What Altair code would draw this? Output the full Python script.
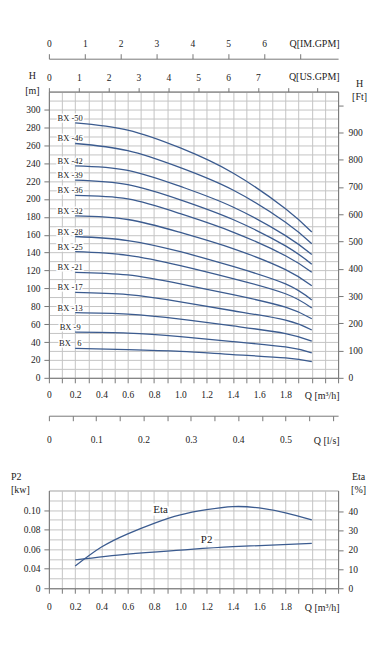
import altair as alt
import pandas as pd

FONT = "Liberation Serif, Times New Roman, serif"
BLUE = "#3b5b8f"
INK = "#222222"

# ---------------- head curves (Q in m3/h, H in m) ----------------
q_main = [0.2, 0.6, 1.0, 1.4, 1.8, 2.0]
models = ["BX -50", "BX -46", "BX -42", "BX -39", "BX -36", "BX -32", "BX -28",
          "BX -25", "BX -21", "BX -17", "BX -13", "BX -9", "BX\u00a0\u00a0\u00a06"]
h_bx50 = [285, 277, 257, 229, 189, 163]
h_bx46 = [262, 254, 235, 210, 174, 150]
h_bx42 = [237, 232, 214, 191, 159, 138]
h_bx39 = [221, 216, 199, 177, 147.5, 127]
h_bx36 = [204, 200, 183.5, 163, 136.5, 118]
h_bx32 = [181, 177, 162.5, 144.5, 121, 103]
h_bx28 = [158, 153.5, 141, 124.5, 105, 87]
h_bx25 = [141, 137, 125.5, 111, 94, 78]
h_bx21 = [118, 115, 105, 93, 79, 66]
h_bx17 = [95.5, 93, 85, 75, 64.5, 53.5]
h_bx13 = [73, 71.3, 65.7, 58, 49.5, 41]
h_bx9 = [51, 50, 46, 40.5, 34.5, 28]
h_bx6 = [33, 31.5, 29.5, 26, 22.3, 18]
heads = [h_bx50, h_bx46, h_bx42, h_bx39, h_bx36, h_bx32, h_bx28,
         h_bx25, h_bx21, h_bx17, h_bx13, h_bx9, h_bx6]

# ---------------- performance curves ----------------
q_p2 = [0.2, 0.6, 1.0, 1.4, 2.0]
p2_kw = [0.049, 0.055, 0.059, 0.0625, 0.066]
q_eta = [0.2, 0.4, 0.6, 0.8, 1.0, 1.2, 1.4, 1.6, 1.8, 2.0]
eta_pct = [11.6, 21.5, 28.4, 33.9, 38.3, 41.0, 42.6, 41.9, 39.3, 35.7]
p2_label = ["P2"]
p2_label_q = [1.2]
p2_label_kw = [0.0696]
eta_label = ["Eta"]
eta_label_q = [0.85]
eta_label_pct = [41.0]

# ---------------- tick values ----------------
q_ticks = [round(i * 0.1, 1) for i in range(23)]
h_ticks = list(range(0, 321, 10))
ft_ticks = list(range(0, 1001, 100))
usgpm_ticks = list(range(10))
imgpm_ticks = list(range(8))
ls_ticks = [round(i * 0.05, 2) for i in range(13)]
kw_ticks = [round(0.02 + i * 0.01, 2) for i in range(11)]
eta_ticks = [0, 10, 20, 30, 40]

M3H_PER_USGPM = 0.22712
M3H_PER_IMGPM = 0.27277
M3H_PER_LS = 3.6
FT_PER_M = 3.28084
Q_MAX = 2.2
H_MAX = 320

rows = []
for m, hs in zip(models, heads):
    for q, h in zip(q_main, hs):
        rows.append({"model": m, "Q": q, "H": h,
                     "usgpm": q / M3H_PER_USGPM, "imgpm": q / M3H_PER_IMGPM,
                     "ls": q / M3H_PER_LS, "ft": h * FT_PER_M})
curve_df = pd.DataFrame(rows)

q_label_expr = ("datum.value == 0 ? '0' : (round(datum.value*10) % 2 == 0 && datum.value < 1.9 "
                "? format(datum.value, '.1f') : '')")

X_M = alt.X("Q:Q", scale=alt.Scale(domain=[0, Q_MAX], nice=False, zero=False),
            axis=alt.Axis(values=q_ticks, labelExpr=q_label_expr, grid=True, tickSize=5,
                          labelPadding=7, title="Q [m³/h]", titleX=291, titleY=18,
                          titleAlign="right", titleBaseline="middle", titleAngle=0))
Y_M = alt.Y("H:Q", scale=alt.Scale(domain=[0, H_MAX], nice=False, zero=False),
            axis=alt.Axis(orient="left", values=h_ticks,
                          labelExpr="datum.value % 20 == 0 && datum.value <= 300 ? datum.value : ''",
                          tickOpacity={"condition": {"test": "datum.value % 20 == 0 && datum.value <= 300",
                                                     "value": 1}, "value": 0},
                          grid=True, tickSize=5, labelPadding=4,
                          title=["H", "[m]"], titleAngle=0, titleAlign="center",
                          titleBaseline="top", titleX=-17, titleY=-21, titleLineHeight=15))
Y_HIDDEN = alt.Y("H:Q", scale=alt.Scale(domain=[0, H_MAX], nice=False, zero=False), axis=None)

base = alt.Chart(curve_df).encode(x=X_M, y=Y_M)
curves = base.mark_line(color=BLUE, strokeWidth=1.3, interpolate="natural").encode(detail="model:N")
lab = base.transform_filter("datum.Q == 0.2")
halo = lab.mark_text(dx=-5, dy=-5, fontSize=8.5, font=FONT, fill="white", stroke="white",
                     strokeWidth=3).encode(text="model:N")
labels = lab.mark_text(dx=-5, dy=-5, fontSize=8.5, font=FONT, color=INK).encode(text="model:N")
core = alt.layer(halo, curves, labels)

us_layer = alt.Chart(curve_df).mark_point(opacity=0).encode(
    x=alt.X("usgpm:Q", scale=alt.Scale(domain=[0, Q_MAX / M3H_PER_USGPM], nice=False, zero=False),
            axis=alt.Axis(orient="top", values=usgpm_ticks, grid=False, tickSize=4, labelPadding=5,
                          labelExpr="datum.value <= 7 ? datum.value : ''",
                          title="Q[US.GPM]", titleX=291, titleY=-15, titleAlign="right",
                          titleBaseline="middle", titleAngle=0)),
    y=alt.Y("ft:Q", scale=alt.Scale(domain=[0, H_MAX * FT_PER_M], nice=False, zero=False),
            axis=alt.Axis(orient="right", values=ft_ticks, grid=False, tickSize=5, labelPadding=5,
                          labelExpr="datum.value <= 900 ? datum.value : ''",
                          title=["H", "[Ft]"], titleAngle=0, titleAlign="center", titleBaseline="top",
                          titleX=21, titleY=-13, titleLineHeight=13)))

im_layer = alt.Chart(curve_df).mark_point(opacity=0).encode(
    x=alt.X("imgpm:Q", scale=alt.Scale(domain=[0, Q_MAX / M3H_PER_IMGPM], nice=False, zero=False),
            axis=alt.Axis(orient="top", offset=33, values=imgpm_ticks, grid=False, tickSize=5,
                          labelPadding=5, labelExpr="datum.value <= 6 ? datum.value : ''",
                          title="Q[IM.GPM]", titleX=291, titleY=-15, titleAlign="right",
                          titleBaseline="middle", titleAngle=0)),
    y=Y_HIDDEN)

ls_layer = alt.Chart(curve_df).mark_point(opacity=0).encode(
    x=alt.X("ls:Q", scale=alt.Scale(domain=[0, Q_MAX / M3H_PER_LS], nice=False, zero=False),
            axis=alt.Axis(orient="bottom", offset=38, values=ls_ticks, grid=False, tickSize=5,
                          labelPadding=14,
                          labelExpr=("abs(datum.value*10 - round(datum.value*10)) < 0.001 && datum.value < 0.55 "
                                     "? (datum.value == 0 ? '0' : format(datum.value, '.1f')) : ''"),
                          title="Q [l/s]", titleX=291, titleY=25, titleAlign="right",
                          titleBaseline="middle", titleAngle=0)),
    y=Y_HIDDEN)

main = alt.layer(core, us_layer, im_layer, ls_layer).resolve_scale(
    x="independent", y="independent").properties(width=290, height=287)

# ---------------- lower panel ----------------
p2_df = pd.DataFrame({"Q": q_p2, "P2": p2_kw})
eta_df = pd.DataFrame({"Q": q_eta, "Eta": eta_pct})
p2_lab_df = pd.DataFrame({"Q": p2_label_q, "P2": p2_label_kw, "label": p2_label})
eta_lab_df = pd.DataFrame({"Q": eta_label_q, "Eta": eta_label_pct, "label": eta_label})

X_L = alt.X("Q:Q", scale=alt.Scale(domain=[0, Q_MAX], nice=False, zero=False),
            axis=alt.Axis(values=q_ticks, labelExpr=q_label_expr, grid=True, tickSize=5,
                          labelPadding=8, title="Q [m³/h]", titleX=291, titleY=19,
                          titleAlign="right", titleBaseline="middle", titleAngle=0))
Y_P2 = alt.Y("P2:Q", scale=alt.Scale(domain=[0.02, 0.12], nice=False, zero=False),
             axis=alt.Axis(orient="left", values=kw_ticks, grid=True, tickSize=5, labelPadding=4,
                           labelExpr=("datum.value < 0.025 ? '0' : (round(datum.value*100) % 2 == 0 && "
                                      "datum.value < 0.11 ? format(datum.value, '.2f') : '')"),
                           tickOpacity={"condition": {"test": "round(datum.value*100) % 2 == 0 && datum.value < 0.11",
                                                      "value": 1}, "value": 0},
                           title=["P2", "[kw]"], titleAngle=0, titleAlign="left", titleBaseline="top",
                           titleX=-38.5, titleY=-19, titleLineHeight=13))
Y_ETA = alt.Y("Eta:Q", scale=alt.Scale(domain=[0, 51], nice=False, zero=False),
              axis=alt.Axis(orient="right", values=eta_ticks, grid=False, tickSize=5, labelPadding=5,
                            title=["Eta", "[%]"], titleAngle=0, titleAlign="center", titleBaseline="top",
                            titleX=20, titleY=-19, titleLineHeight=13))

p2_line = alt.Chart(p2_df).mark_line(color=BLUE, strokeWidth=1.3, interpolate="natural").encode(x=X_L, y=Y_P2)
p2_halo = alt.Chart(p2_lab_df).mark_text(fontSize=11, font=FONT, fill="white", stroke="white",
                                        strokeWidth=5).encode(x=X_L, y=Y_P2, text="label:N")
p2_text = alt.Chart(p2_lab_df).mark_text(fontSize=11, font=FONT, color=INK).encode(x=X_L, y=Y_P2, text="label:N")
eta_line = alt.Chart(eta_df).mark_line(color=BLUE, strokeWidth=1.3, interpolate="natural").encode(x=X_L, y=Y_ETA)
eta_halo = alt.Chart(eta_lab_df).mark_text(fontSize=11, font=FONT, fill="white", stroke="white",
                                          strokeWidth=5).encode(x=X_L, y=Y_ETA, text="label:N")
eta_text = alt.Chart(eta_lab_df).mark_text(fontSize=11, font=FONT, color=INK).encode(x=X_L, y=Y_ETA, text="label:N")

lower = alt.layer(alt.layer(p2_halo, p2_line, p2_text),
                  alt.layer(eta_halo, eta_line, eta_text)).resolve_scale(
    y="independent").properties(width=290, height=98)

chart = alt.vconcat(main, lower, spacing=113, bounds="flush").properties(
    padding={"left": 2, "top": 29, "right": 5, "bottom": 5}
).configure_view(stroke="#bdbdbd").configure_axis(
    labelFont=FONT, titleFont=FONT, labelFontSize=9.5, titleFontSize=10,
    titleFontWeight="normal", labelColor=INK, titleColor=INK,
    domainColor="#777777", tickColor="#777777", gridColor="#c4c4c4", gridWidth=1,
    labelFlush=False, labelOverlap=False, labelBound=False
)

chart.save("out.html", embed_options={"renderer": "svg", "actions": False})
